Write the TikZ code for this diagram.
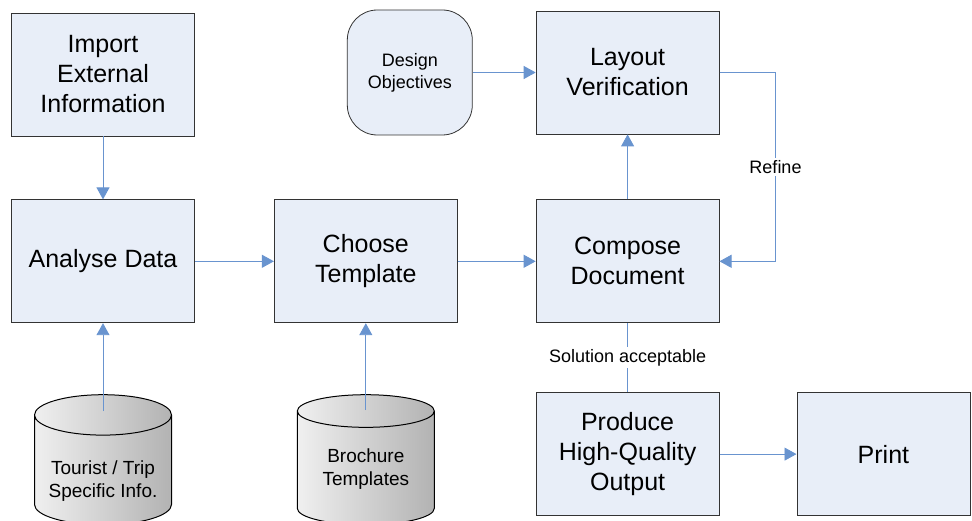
\documentclass[tikz,border=0pt]{standalone}
\usepackage{fontspec}
\setmainfont{Liberation Sans}
\usetikzlibrary{arrows.meta,positioning,shapes.geometric}

\definecolor{boxfill}{RGB}{232,238,248}
\definecolor{flowblue}{RGB}{79,129,199}

\begin{document}
\begin{tikzpicture}[x=1pt,y=-1pt,
		place/.style={rectangle,draw=black!80,line width=0.8pt,fill=boxfill,
			minimum width=183pt,minimum height=123pt,align=center,
			font=\fontsize{25}{30}\selectfont},
		goal/.style={place,rounded corners=30pt,minimum width=125pt,minimum height=125pt,
			font=\fontsize{18}{22}\selectfont},
		store/.style={cylinder,shape border rotate=90,aspect=0.35,draw=black,line width=1pt,
			minimum width=137pt,minimum height=130pt,align=center,
			left color=gray!12,middle color=white,right color=gray!60,shading angle=90,
			font=\fontsize{19}{23}\selectfont},
		note/.style={fill=white,inner sep=2pt,font=\fontsize{18}{22}\selectfont},
		mline/.style={draw=flowblue!85,line width=0.9pt},
		marrow/.style={mline,-{Triangle[length=12pt,width=13pt]}}]
		\useasboundingbox (0,0) rectangle (972,521);

		\node [place] (import) at (103,74.5) {Import\\External\\Information};
		\node [place] (analyse) [below=63pt of import] {Analyse Data};
		\node [place] (choose) [right=79pt of analyse] {Choose\\Template};
		\node [place] (compose) [right=78pt of choose] {Compose\\Document};
		\node [place] (layout) [above=65pt of compose] {Layout\\Verification};
		\node [goal] (objectives) [left=63pt of layout] {Design\\Objectives};
		\node [place] (produce) [below=69pt of compose] {Produce\\High-Quality\\Output};
		\node [place,minimum width=173pt] (print) [right=77pt of produce] {Print};

		% data stores
		\node [store] (tourist) [below=71pt of analyse] {\\[6pt]Tourist / Trip\\Specific Info.};
		\node [store] (brochure) [below=71pt of choose] {\\[-12pt]Brochure\\Templates};
		\coordinate [below=17pt of tourist.north] (tourist-in);
		\coordinate [below=16pt of brochure.north] (brochure-in);
		\coordinate [right=56pt of layout.east] (refine-turn);

		% horizontal arrows
		\draw [marrow] (analyse) -- (choose);
		\draw [marrow] (choose) -- (compose);
		\draw [marrow] (objectives) -- (layout);
		\draw [marrow] (produce) -- (print);
		\draw [marrow] (layout.east) -- (refine-turn) |- node [note,pos=0.25] {Refine} (compose.east);

		% vertical arrows
		\draw [marrow] (import) -- (analyse);
		\draw [marrow] (tourist-in) -- (analyse);
		\draw [marrow] (brochure-in) -- (choose);
		\draw [marrow] (compose) -- (layout);
		\draw [mline] (compose) -- node [note] {Solution acceptable} (produce);
	\end{tikzpicture}
\end{document}
